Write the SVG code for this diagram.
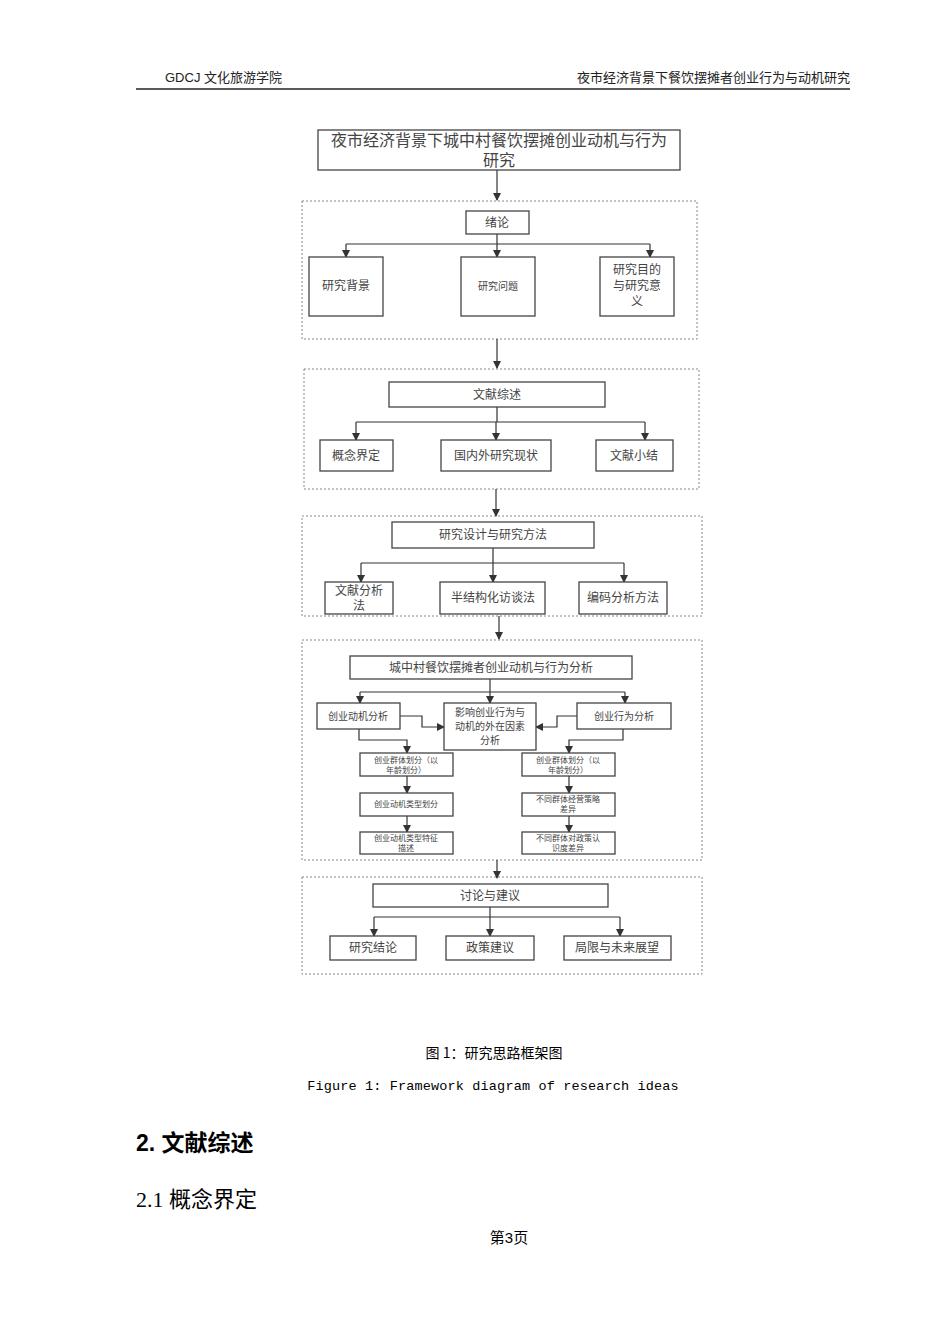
<svg xmlns="http://www.w3.org/2000/svg" width="950" height="1344" viewBox="0 0 950 1344">
<defs><marker id="ah" markerWidth="8" markerHeight="8" refX="7" refY="4" orient="auto" markerUnits="userSpaceOnUse"><path d="M0,0L8,4L0,8z" fill="#333"/></marker></defs>
<style>
.b{fill:#fff;stroke:#444;stroke-width:1.3}
.g{fill:none;stroke:#888;stroke-width:1;stroke-dasharray:2,2}
.c{fill:none;stroke:#333;stroke-width:1.2;marker-end:url(#ah)}
.l{fill:none;stroke:#333;stroke-width:1.2}
text{font-family:"Liberation Serif","Noto Sans CJK SC",serif;fill:#444;text-anchor:middle}
.t{font-size:12px}.s{font-size:10px}.m{font-size:13px}
</style>
<rect width="950" height="1344" fill="#fff"/>
<g id="header">
<text x="165" y="82" style="text-anchor:start;font-size:13px;fill:#222;font-family:'Liberation Sans','Noto Sans CJK SC',sans-serif">GDCJ 文化旅游学院</text>
<text x="850" y="82" style="text-anchor:end;font-size:13px;fill:#222;font-family:'Liberation Sans','Noto Sans CJK SC',sans-serif">夜市经济背景下餐饮摆摊者创业行为与动机研究</text>
<line x1="136" y1="89" x2="850" y2="89" stroke="#222" stroke-width="1.5"/>
</g>
<g id="groups">
<rect class="g" x="302" y="201" width="395" height="138"/>
<rect class="g" x="304" y="369" width="395" height="120"/>
<rect class="g" x="302" y="516" width="400" height="100"/>
<rect class="g" x="302" y="640" width="400" height="220"/>
<rect class="g" x="302" y="877" width="400" height="97"/>
</g>
<g id="connectors">
<path class="c" d="M497,170V200"/>
<path class="l" d="M346,244H650M497,234V244"/>
<path class="c" d="M346,244V257"/><path class="c" d="M497,244V257"/><path class="c" d="M650,244V257"/>
<path class="c" d="M497,339V368"/>
<path class="l" d="M356,422H645M497,407V422"/>
<path class="c" d="M356,422V440"/><path class="c" d="M496,422V440"/><path class="c" d="M645,422V440"/>
<path class="c" d="M496,489V516"/>
<path class="l" d="M361,563H624M493,548V563"/>
<path class="c" d="M361,563V582"/><path class="c" d="M493,563V582"/><path class="c" d="M624,563V582"/>
<path class="c" d="M499,616V639"/>
<path class="l" d="M360,692H625"/>
<path class="c" d="M490,679V703"/><path class="c" d="M360,692V703"/><path class="c" d="M625,692V703"/>
<path class="c" d="M400,716H422V727H444"/>
<path class="c" d="M577,716H557V727H536"/>
<path class="c" d="M359,729V740H407V753"/>
<path class="c" d="M623,729V740H569V753"/>
<path class="c" d="M407,776V793"/><path class="c" d="M407,816V832"/>
<path class="c" d="M569,776V793"/><path class="c" d="M569,816V832"/>
<path class="c" d="M497,860V878"/>
<path class="l" d="M374,917H620M490,907V917"/>
<path class="c" d="M374,917V936"/><path class="c" d="M490,917V936"/><path class="c" d="M620,917V936"/>
</g>
<g id="n0"><rect class="b" x="318" y="130" width="362" height="40"/><text x="499" y="146" style="font-size:16px">夜市经济背景下城中村餐饮摆摊创业动机与行为</text><text x="499" y="166" style="font-size:16px">研究</text></g>
<g id="n1"><rect class="b" x="466" y="211" width="63" height="23"/><text class="t" x="497" y="227">绪论</text></g>
<g id="n2"><rect class="b" x="309" y="257" width="74" height="59"/><text class="t" x="346" y="290">研究背景</text></g>
<g id="n3"><rect class="b" x="461" y="257" width="74" height="59"/><text class="s" x="498" y="290">研究问题</text></g>
<g id="n4"><rect class="b" x="600" y="257" width="74" height="59"/><text class="t" x="637" y="274">研究目的</text><text class="t" x="637" y="290">与研究意</text><text class="t" x="637" y="306">义</text></g>
<g id="n5"><rect class="b" x="389" y="382" width="216" height="25"/><text class="t" x="497" y="399">文献综述</text></g>
<g id="n6"><rect class="b" x="320" y="440" width="73" height="31"/><text class="t" x="356" y="460">概念界定</text></g>
<g id="n7"><rect class="b" x="441" y="440" width="110" height="31"/><text class="t" x="496" y="460">国内外研究现状</text></g>
<g id="n8"><rect class="b" x="596" y="440" width="77" height="31"/><text class="t" x="634" y="460">文献小结</text></g>
<g id="n9"><rect class="b" x="392" y="522" width="202" height="26"/><text class="t" x="493" y="539">研究设计与研究方法</text></g>
<g id="n10"><rect class="b" x="325" y="582" width="68" height="32"/><text class="t" x="359" y="595">文献分析</text><text class="t" x="359" y="610">法</text></g>
<g id="n11"><rect class="b" x="440" y="582" width="105" height="32"/><text class="t" x="493" y="602">半结构化访谈法</text></g>
<g id="n12"><rect class="b" x="579" y="582" width="88" height="32"/><text class="t" x="623" y="602">编码分析方法</text></g>
<g id="n13"><rect class="b" x="350" y="656" width="282" height="23"/><text class="t" x="491" y="672">城中村餐饮摆摊者创业动机与行为分析</text></g>
<g id="n14"><rect class="b" x="317" y="703" width="83" height="26"/><text class="s" x="358" y="720">创业动机分析</text></g>
<g id="n15"><rect class="b" x="444" y="703" width="92" height="47"/><text class="s" x="490" y="716">影响创业行为与</text><text class="s" x="490" y="730">动机的外在因素</text><text class="s" x="490" y="744">分析</text></g>
<g id="n16"><rect class="b" x="577" y="703" width="94" height="26"/><text class="s" x="624" y="720">创业行为分析</text></g>
<g id="n17"><rect class="b" x="360" y="753" width="93" height="23"/><text x="406" y="763" style="font-size:8px">创业群体划分（以</text><text x="406" y="773" style="font-size:8px">年龄划分）</text></g>
<g id="n18"><rect class="b" x="360" y="793" width="93" height="23"/><text x="406" y="807" style="font-size:8px">创业动机类型划分</text></g>
<g id="n19"><rect class="b" x="360" y="832" width="93" height="22"/><text x="406" y="841" style="font-size:8px">创业动机类型特征</text><text x="406" y="851" style="font-size:8px">描述</text></g>
<g id="n20"><rect class="b" x="522" y="753" width="93" height="23"/><text x="568" y="763" style="font-size:8px">创业群体划分（以</text><text x="568" y="773" style="font-size:8px">年龄划分）</text></g>
<g id="n21"><rect class="b" x="522" y="793" width="93" height="23"/><text x="568" y="802" style="font-size:8px">不同群体经营策略</text><text x="568" y="812" style="font-size:8px">差异</text></g>
<g id="n22"><rect class="b" x="522" y="832" width="93" height="22"/><text x="568" y="841" style="font-size:8px">不同群体对政策认</text><text x="568" y="851" style="font-size:8px">识度差异</text></g>
<g id="n23"><rect class="b" x="373" y="884" width="235" height="23"/><text class="t" x="490" y="900">讨论与建议</text></g>
<g id="n24"><rect class="b" x="330" y="936" width="86" height="24"/><text class="t" x="373" y="952">研究结论</text></g>
<g id="n25"><rect class="b" x="446" y="936" width="88" height="24"/><text class="t" x="490" y="952">政策建议</text></g>
<g id="n26"><rect class="b" x="564" y="936" width="107" height="24"/><text class="t" x="617" y="952">局限与未来展望</text></g>
<g id="caption">
<text x="494" y="1058" style="font-size:14px;fill:#000;font-family:'Noto Sans CJK SC',sans-serif">图 1：研究思路框架图</text>
<text x="493" y="1090" style="font-size:13.5px;letter-spacing:0.15px;fill:#000;font-family:'Liberation Mono',monospace">Figure 1: Framework diagram of research ideas</text>
<text x="136" y="1151" style="text-anchor:start;font-size:23px;font-weight:bold;fill:#000;font-family:'Liberation Sans','Noto Sans CJK SC',sans-serif">2.  文献综述</text>
<text x="136" y="1207" style="text-anchor:start;font-size:22px;fill:#000;font-family:'Liberation Serif','Noto Sans CJK SC',serif">2.1 概念界定</text>
<text x="509" y="1243" style="font-size:15px;fill:#000;font-family:'Liberation Sans','Noto Sans CJK SC',sans-serif">第3页</text>
</g>
</svg>
